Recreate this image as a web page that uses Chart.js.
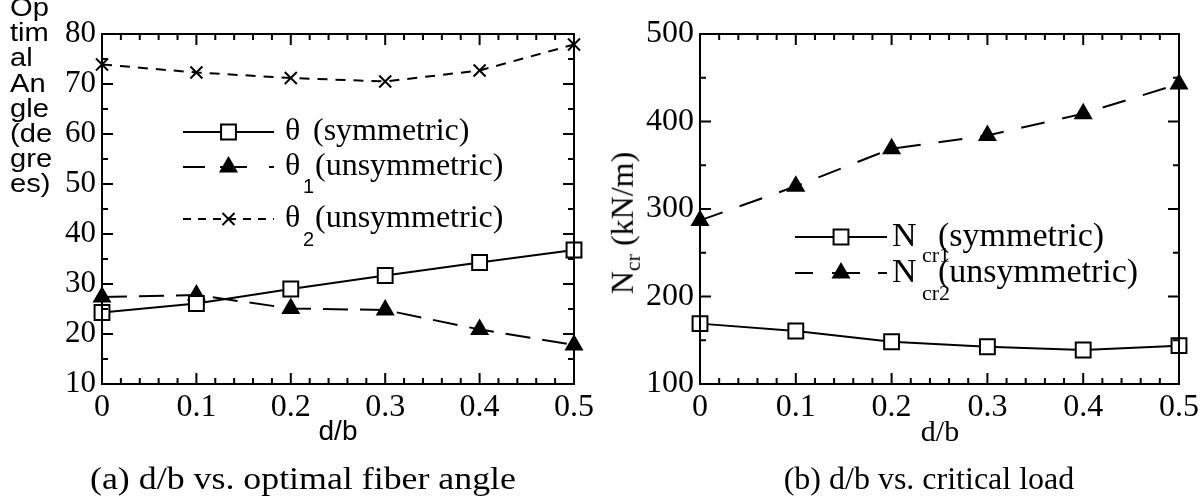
<!DOCTYPE html>
<html>
<head>
<meta charset="utf-8">
<script src="https://cdn.jsdelivr.net/npm/chart.js@4.4.0/dist/chart.umd.min.js"></script>
<style>
  body { margin: 0; background: #fff; width: 1203px; height: 499px; overflow: hidden; position: relative; }
  canvas { position: absolute; top: 0; }
  #chartA { left: 0; }
  #chartB { left: 600px; }
  .txt { position: absolute; color: #000; white-space: nowrap; }
  .serif { font-family: "Liberation Serif", "Times New Roman", serif; }
  .sans { font-family: "Liberation Sans", Arial, sans-serif; }
</style>
</head>
<body>
<canvas id="chartA" width="600" height="499"></canvas>
<canvas id="chartB" width="603" height="499"></canvas>

<div class="txt sans" style="left:10px; top:-5px; font-size:26px; line-height:25.2px; transform-origin:0 0; transform:scaleX(1.12);">Op<br>tim<br>al<br>An<br>gle<br>(de<br>gre<br>es)</div>
<div class="txt serif" style="left:625px; top:223px; font-size:32px; transform:translate(-50%,-50%) rotate(-90deg);">N<sub style="font-size:22px">cr</sub> (kN/m)</div>

<div class="txt sans" style="left:338px; top:431px; font-size:28px; transform:translate(-50%,-50%);">d/b</div>
<div class="txt serif" style="left:940px; top:431px; font-size:30px; transform:translate(-50%,-50%);">d/b</div>
<div class="txt serif" style="left:303px; top:478px; font-size:32px; transform:translate(-50%,-50%) scaleX(1.12);">(a) d/b vs. optimal fiber angle</div>
<div class="txt serif" style="left:929px; top:478px; font-size:32px; transform:translate(-50%,-50%);">(b) d/b vs. critical load</div>

<script>
// 데이터
const dbValues = [0, 0.1, 0.2, 0.3, 0.4, 0.5];
const dbTickLabels = ['0', '0.1', '0.2', '0.3', '0.4', '0.5'];
const thetaSym = [24.3, 26.1, 29.0, 31.7, 34.3, 36.8];
const theta1Unsym = [27.4, 27.8, 25.1, 24.8, 20.9, 17.8];
const theta2Unsym = [73.9, 72.3, 71.2, 70.5, 72.7, 77.9];
const angleTicks = [10, 20, 30, 40, 50, 60, 70, 80];
const ncr1Sym = [169, 160.6, 148.3, 142.6, 138.9, 143.8];
const ncr2Unsym = [287, 326, 369, 384, 409, 443];
const loadTicks = [100, 200, 300, 400, 500];

const SERIF = '"Liberation Serif", "Times New Roman", serif';
const SANS = '"Liberation Sans", Arial, sans-serif';

function pts(ys) {
  return dbValues.map((x, i) => ({ x: x, y: ys[i] }));
}

// 안쪽으로 향하는 눈금과 테두리
const frameTicks = {
  id: 'frameTicks',
  afterDraw(chart, args, opts) {
    const { ctx, chartArea: a, scales: { x, y } } = chart;
    ctx.save();
    ctx.strokeStyle = '#000';
    ctx.lineWidth = 2;
    ctx.strokeRect(a.left, a.top, a.right - a.left, a.bottom - a.top);
    ctx.beginPath();
    const nx = Math.round((x.max - x.min) / opts.xMinor);
    for (let i = 0; i <= nx; i++) {
      const px = x.getPixelForValue(x.min + i * opts.xMinor);
      const len = i % opts.xEvery === 0 ? 11 : 6;
      ctx.moveTo(px, a.bottom); ctx.lineTo(px, a.bottom - len);
      ctx.moveTo(px, a.top); ctx.lineTo(px, a.top + len);
    }
    const ny = Math.round((y.max - y.min) / opts.yMinor);
    for (let i = 0; i <= ny; i++) {
      const py = y.getPixelForValue(y.min + i * opts.yMinor);
      const len = i % opts.yEvery === 0 ? 11 : 6;
      ctx.moveTo(a.left, py); ctx.lineTo(a.left + len, py);
      ctx.moveTo(a.right, py); ctx.lineTo(a.right - len, py);
    }
    ctx.stroke();
    ctx.restore();
  }
};

// 범례 (선 + 마커 + 첨자 텍스트)
const legendBox = {
  id: 'legendBox',
  afterDraw(chart, args, opts) {
    const ctx = chart.ctx;
    ctx.save();
    opts.rows.forEach(r => {
      const ds = chart.data.datasets[r.ds];
      ctx.strokeStyle = '#000';
      ctx.lineWidth = 2;
      ctx.setLineDash(r.dash || []);
      ctx.beginPath();
      ctx.moveTo(opts.x0, r.y);
      ctx.lineTo(opts.x1, r.y);
      ctx.stroke();
      ctx.setLineDash([]);
      ctx.fillStyle = ds.pointBackgroundColor;
      Chart.helpers.drawPoint(ctx, {
        pointStyle: ds.pointStyle, radius: ds.pointRadius, rotation: 0, borderWidth: 2
      }, (opts.x0 + opts.x1) / 2, r.y);
      ctx.fillStyle = '#000';
      ctx.textBaseline = 'middle';
      ctx.textAlign = 'left';
      r.parts.forEach(p => {
        ctx.font = p.font;
        ctx.fillText(p.text, p.x, r.y + (p.dy || 0));
      });
    });
    ctx.restore();
  }
};

function lineDataset(label, ys, style) {
  return Object.assign({
    label: label,
    data: pts(ys),
    borderColor: '#000',
    borderWidth: 2,
    pointBorderColor: '#000',
    pointBorderWidth: 2,
    tension: 0,
    clip: false
  }, style);
}

function axisX() {
  return {
    type: 'linear', min: 0, max: 0.5,
    afterBuildTicks: s => { s.ticks = dbValues.map(v => ({ value: v })); },
    afterFit: s => { s.height = 115; },
    grid: { display: false, drawTicks: false },
    border: { display: false },
    ticks: {
      padding: 4, color: '#000', font: { family: SERIF, size: 32 },
      callback: (v, i) => dbTickLabels[i]
    }
  };
}

function axisY(min, max, ticksArr, width, size) {
  return {
    type: 'linear', min: min, max: max,
    afterBuildTicks: s => { s.ticks = ticksArr.map(v => ({ value: v })); },
    afterFit: s => { s.width = width; },
    grid: { display: false, drawTicks: false },
    border: { display: false },
    ticks: { padding: 6, color: '#000', font: { family: SERIF, size: size } }
  };
}

const bigSerif = '32px ' + SERIF;
const legSerifB = '34px ' + SERIF;
const subFont = '20px ' + SANS;

function drawCharts() {
  new Chart(document.getElementById('chartA'), {
    type: 'line',
    data: {
      datasets: [
        lineDataset('θ (symmetric)', thetaSym, {
          pointStyle: 'rect', pointRadius: 10.5, pointBackgroundColor: '#fff'
        }),
        lineDataset('θ1(unsymmetric)', theta1Unsym, {
          borderDash: [25, 12], pointStyle: 'triangle', pointRadius: 9, pointBackgroundColor: '#000'
        }),
        lineDataset('θ2(unsymmetric)', theta2Unsym, {
          borderDash: [10, 8], pointStyle: 'crossRot', pointRadius: 8.5, pointBackgroundColor: '#000'
        })
      ]
    },
    options: {
      responsive: false,
      animation: false,
      layout: { padding: { left: 0, right: 26, top: 34, bottom: 0 } },
      plugins: {
        legend: { display: false },
        tooltip: { enabled: false },
        frameTicks: { xMinor: 0.02, xEvery: 5, yMinor: 5, yEvery: 2 },
        legendBox: {
          x0: 183, x1: 274,
          rows: [
            { ds: 0, y: 132, parts: [
              { text: 'θ', x: 285, font: bigSerif },
              { text: '(symmetric)', x: 313, font: bigSerif }] },
            { ds: 1, y: 167, dash: [22, 15, 27, 22, 5, 100], parts: [
              { text: 'θ', x: 285, font: bigSerif },
              { text: '1', x: 303, dy: 20, font: subFont },
              { text: '(unsymmetric)', x: 315, font: bigSerif }] },
            { ds: 2, y: 219, dash: [8, 7], parts: [
              { text: 'θ', x: 285, font: bigSerif },
              { text: '2', x: 303, dy: 21, font: subFont },
              { text: '(unsymmetric)', x: 315, font: bigSerif }] }
          ]
        }
      },
      scales: {
        x: axisX(),
        y: axisY(10, 80, angleTicks, 102, 31)
      }
    },
    plugins: [frameTicks, legendBox]
  });

  new Chart(document.getElementById('chartB'), {
    type: 'line',
    data: {
      datasets: [
        lineDataset('Ncr1 (symmetric)', ncr1Sym, {
          pointStyle: 'rect', pointRadius: 10.5, pointBackgroundColor: '#fff'
        }),
        lineDataset('Ncr2 (unsymmetric)', ncr2Unsym, {
          borderDash: [24, 18], pointStyle: 'triangle', pointRadius: 9, pointBackgroundColor: '#000'
        })
      ]
    },
    options: {
      responsive: false,
      animation: false,
      layout: { padding: { left: 0, right: 24, top: 34, bottom: 0 } },
      plugins: {
        legend: { display: false },
        tooltip: { enabled: false },
        frameTicks: { xMinor: 0.02, xEvery: 5, yMinor: 50, yEvery: 2 },
        legendBox: {
          x0: 195, x1: 287,
          rows: [
            { ds: 0, y: 237, parts: [
              { text: 'N', x: 292, font: legSerifB },
              { text: 'cr1', x: 322, dy: 19, font: '22px ' + SERIF },
              { text: '(symmetric)', x: 338, font: legSerifB }] },
            { ds: 1, y: 273, dash: [18, 19, 28, 18, 9, 100], parts: [
              { text: 'N', x: 292, font: legSerifB },
              { text: 'cr2', x: 322, dy: 21, font: '22px ' + SERIF },
              { text: '(unsymmetric)', x: 338, font: legSerifB }] }
          ]
        }
      },
      scales: {
        x: axisX(),
        y: axisY(100, 500, loadTicks, 100, 32)
      }
    },
    plugins: [frameTicks, legendBox]
  });
}

Promise.all([
  document.fonts.load('32px "Liberation Serif"'),
  document.fonts.load('20px "Liberation Sans"')
]).then(drawCharts, drawCharts);
</script>
</body>
</html>
